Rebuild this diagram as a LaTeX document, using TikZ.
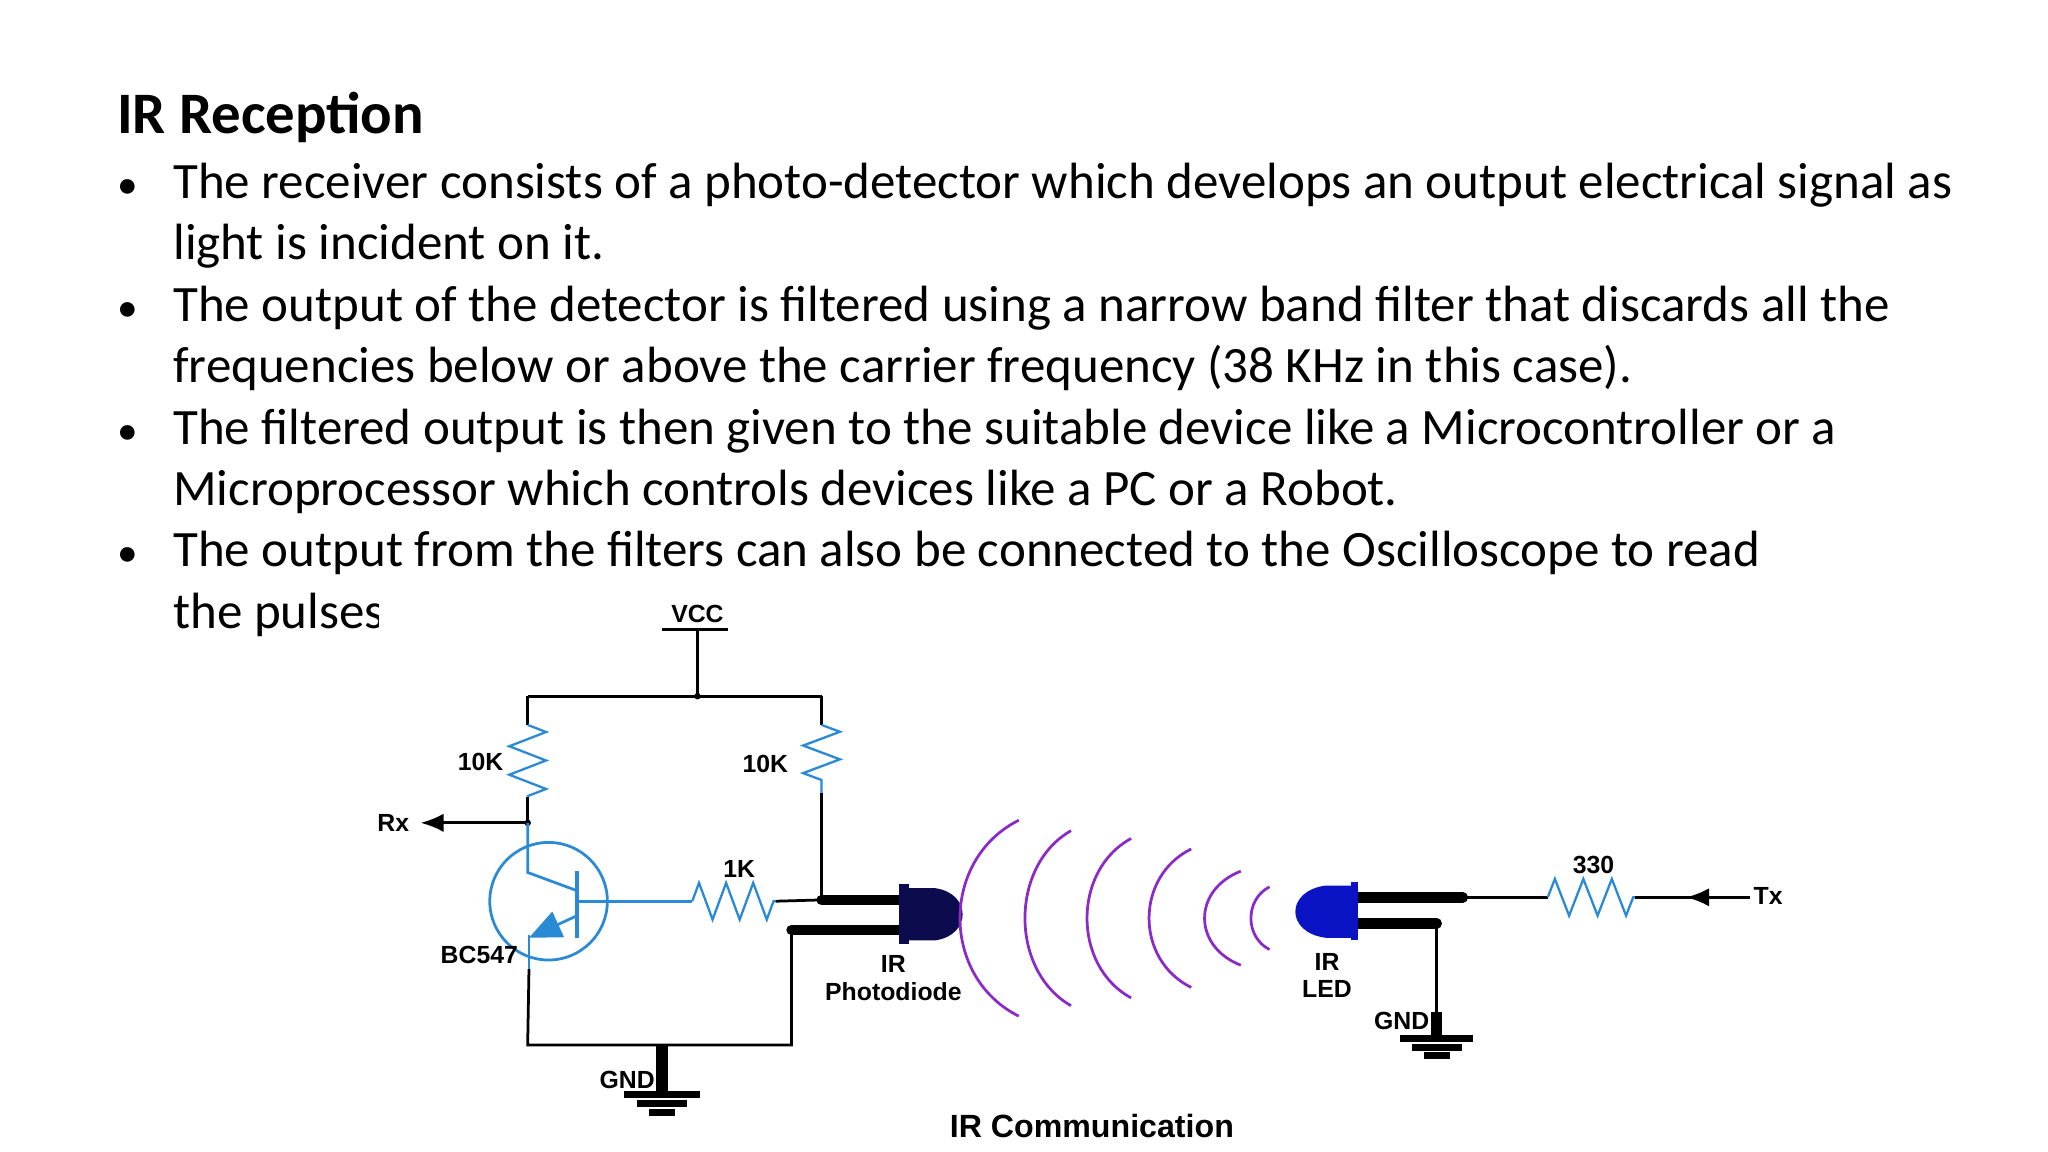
\documentclass[tikz,border=0pt]{standalone}
\usepackage{fontspec}
\setmainfont{Carlito}
\newfontfamily\arialf{Liberation Sans}
\usetikzlibrary{decorations.pathmorphing,arrows.meta}
\definecolor{wireblue}{HTML}{2A8AD6}
\definecolor{pdnavy}{HTML}{0B0B4D}
\definecolor{ledblue}{HTML}{0A14C4}
\definecolor{wavepurple}{HTML}{8A2BC8}
\tikzset{
  para/.style={anchor=base west,inner sep=0pt,font=\fontsize{11.1}{13.4}\selectfont},
  lbl/.style={inner sep=0pt,font=\arialf\bfseries\fontsize{5.4}{6}\selectfont},
  res/.style={wireblue,line width=0.5pt,decorate,decoration={zigzag,segment length=#1,amplitude=4pt}},
  wire/.style={black,line width=0.6pt},
  lead/.style={black,line width=0.08cm,line cap=round},
  wave/.style={wavepurple,line width=0.6pt},
}
\begin{document}
\begin{tikzpicture}[x=0.01cm,y=-0.01cm]
\useasboundingbox (0,0) rectangle (1568,882);
% text
\node[para,font=\bfseries\fontsize{12.8}{15}\selectfont] (title) at (89,102) {IR Reception};
\foreach \n/\y in {b1/152,b2/246,b3/340,b4/434}
    \node[para,font=\fontsize{9}{10}\selectfont] (\n dot) at (89,\y) {\textbullet};
\foreach \n/\y/\t in {
    l1/152/{The receiver consists of a photo-detector which develops an output electrical signal as},
    l2/199/{light is incident on it.},
    l3/246/{The output of the detector is filtered using a narrow band filter that discards all the},
    l4/293/{frequencies below or above the carrier frequency (38 KHz in this case).},
    l5/340/{The filtered output is then given to the suitable device like a Microcontroller or a},
    l6/387/{Microprocessor which controls devices like a PC or a Robot.},
    l7/434/{The output from the filters can also be connected to the Oscilloscope to read},
    l8/481/{the pulses.}}
    \node[para] (\n) at (132,\y) {\t};
\fill[white] (290,457) rectangle (1160,882);
% receiver
\coordinate (vtop) at (534,482);
\coordinate (vj) at (534,533);
\coordinate (tl) at (404,533);
\coordinate (tr) at (629,533);
\coordinate (r1a) at (404,555);
\coordinate (r1b) at (404,610);
\coordinate (rxj) at (404,630);
\coordinate (rxe) at (322,630);
\coordinate (r2a) at (629,555);
\coordinate (r2b) at (629,607);
\coordinate (pdk) at (629,689);
\node[circle,draw=wireblue,line width=0.6pt,minimum size=0.9cm,inner sep=0pt] (q) at (420,690) {};
\draw[wire] (507,482) -- (557,482);
\node[lbl] (vcc) at (534,470) {VCC};
\draw[wire] (vtop) -- (vj);
\fill (vj) circle (2.5);
\draw[wire] (tl) -- (tr);
\draw[wire] (tl) -- (r1a);
\draw[res=6.2pt] (r1a) -- (r1b);
\draw[wire] (r1b) -- (rxj);
\fill (rxj) circle (2.5);
\draw[wire,-{Latex[length=5pt,width=4pt]}] (rxj) -- (rxe);
\node[lbl,anchor=east] (rx) at (314,630) {Rx};
\node[lbl] (r1l) at (368,583) {10K};
\draw[wire] (tr) -- (r2a);
\draw[res=6pt] (r2a) -- (r2b);
\draw[wire] (r2b) -- (pdk);
\node[lbl] (r2l) at (586,585) {10K};
% transistor
\draw[wireblue,line width=0.6pt] (rxj) -- (404,668) -- (442,682);
\draw[wireblue,line width=0.8pt] (442,667) -- (442,718);
\draw[wireblue,line width=0.6pt,-{Triangle[length=7pt,width=6pt]}] (442,701) -- (405,718);
\draw[wireblue,line width=0.6pt] (405,716) -- (405,742);
\draw[wireblue,line width=0.6pt] (442,690) -- (530,690);
\draw[res=5.9pt] (530,690) -- (594,690);
\draw[wire] (594,690) -- (pdk);
\node[lbl] (r3l) at (566,665) {1K};
\node[lbl] (bc) at (367,731) {BC547};
\draw[wire] (405,742) -- (404,800) -- (606,800) -- (606,712);
\draw[black,line width=2.5pt] (507,800) -- (507,838);
\draw[black,line width=1.6pt] (478,838) -- (536,838) (488,845) -- (526,845) (497,852) -- (517,852);
\node[lbl,anchor=east] (gnd1) at (502,827) {GND};
% photodiode
\draw[lead] (pdk) -- (690,689);
\draw[lead] (606,712) -- (690,712);
\fill[pdnavy] (688,677) rectangle (696,723);
\fill[pdnavy] (694,680) -- (716,680) .. controls (744,684) and (744,716) .. (716,720) -- (694,720) -- cycle;
\node[lbl,align=center] (pdl) at (684,749) {IR\\Photodiode};
% waves
\foreach \xt/\yt/\yb/\cx in {780/628/778/720, 820/636/770/773, 866/642/764/821, 912/650/756/869, 950/667/739/913, 972/679/727/953}
    \draw[wave] (\xt,\yt) .. controls (\cx,{\yt+0.2*(\yb-\yt)}) and (\cx,{\yb-0.2*(\yb-\yt)}) .. (\xt,\yb);
% transmitter
\coordinate (lda) at (1120,687);
\coordinate (ldk) at (1100,707);
\draw[lead] (1037,687) -- (lda);
\draw[lead] (1037,707) -- (ldk);
\fill[ledblue] (1034,675) rectangle (1040,720);
\fill[ledblue] (1036,678) -- (1015,678) .. controls (984,682) and (984,714) .. (1015,718) -- (1036,718) -- cycle;
\node[lbl,align=center] (ledl) at (1016,747) {IR\\LED};
\draw[wire] (lda) -- (1185,687);
\draw[res=6.2pt] (1185,687) -- (1252,687);
\draw[wire] (1252,687) -- (1340,687);
\draw[wire,-{Latex[length=5pt,width=4pt]}] (1340,687) -- (1291,687);
\node[lbl,anchor=west] (tx) at (1342,686) {Tx};
\node[lbl] (r4l) at (1220,662) {330};
\draw[wire] (ldk) -- (1100,780);
\draw[black,line width=2.5pt] (1100,775) -- (1100,795);
\draw[black,line width=1.6pt] (1072,795) -- (1128,795) (1081,802) -- (1119,802) (1090,808) -- (1110,808);
\node[lbl,anchor=east] (gnd2) at (1095,782) {GND};
\node[lbl,font=\arialf\bfseries\fontsize{7}{8}\selectfont] (cap) at (836,862) {IR Communication};
\end{tikzpicture}
\end{document}
